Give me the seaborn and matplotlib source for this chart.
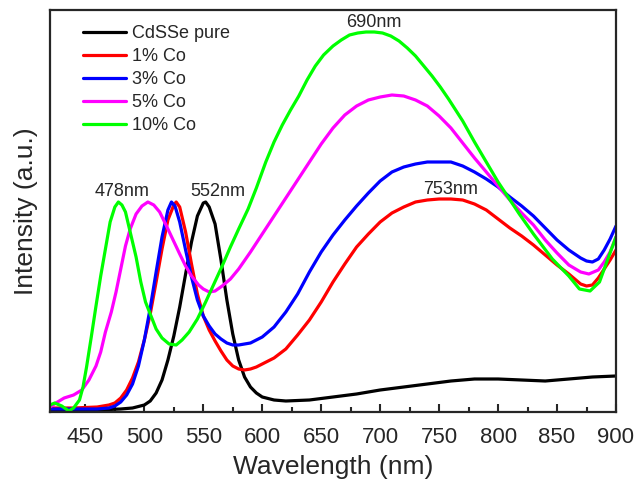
import numpy as np
import pandas as pd
import matplotlib
matplotlib.use("Agg")
import matplotlib.pyplot as plt
from matplotlib.ticker import MultipleLocator
import seaborn as sns

sns.set_style("ticks")
plt.rcParams['font.family'] = ['Liberation Sans', 'DejaVu Sans']

# PL spectra (intensity in arbitrary units)
pure_wl = [420, 440, 460, 480, 490, 500, 505, 510, 515, 520, 525, 530, 535, 540, 545, 550, 552,
           555, 560, 565, 570, 575, 580, 585, 590, 595, 600, 610, 620, 640, 660, 680, 700, 720,
           740, 760, 780, 800, 820, 840, 860, 880, 900]
pure_int = [2, 2, 2, 3, 4, 7, 11, 19, 32, 52, 76, 105, 138, 170, 196, 209, 210,
            205, 188, 152, 112, 78, 52, 35, 25, 19, 15, 12, 11, 12, 15, 18, 22, 25,
            28, 31, 33, 33, 32, 31, 33, 35, 36]

co1_wl = [420, 440, 460, 470, 475, 480, 485, 490, 495, 500, 505, 510, 515, 520, 525, 527, 530,
          535, 540, 545, 550, 555, 560, 565, 570, 575, 580, 585, 590, 595, 600, 610, 620, 630,
          640, 650, 660, 670, 680, 690, 700, 710, 720, 730, 740, 750, 760, 770, 780, 790, 800,
          810, 820, 830, 840, 850, 860, 865, 870, 875, 880, 885, 890, 895, 900]
co1_int = [4, 4, 5, 7, 9, 14, 22, 34, 50, 72, 98, 130, 163, 192, 207, 210, 205,
           180, 148, 118, 96, 82, 71, 61, 52, 46, 43, 42, 43, 45, 48, 54, 63, 77,
           92, 110, 130, 148, 165, 178, 190, 199, 205, 210, 212, 213, 213, 212, 208, 202, 193,
           184, 176, 167, 157, 147, 138, 133, 128, 126, 127, 134, 143, 152, 162]

co3_wl = [420, 440, 460, 470, 475, 480, 485, 490, 495, 500, 505, 510, 515, 520, 523, 526, 530,
          535, 540, 545, 550, 555, 560, 565, 570, 575, 580, 590, 600, 610, 620, 630, 640, 650,
          660, 670, 680, 690, 700, 710, 720, 730, 740, 750, 760, 770, 780, 790, 800, 810, 820,
          830, 840, 850, 860, 870, 875, 880, 885, 890, 895, 900]
co3_int = [3, 3, 3, 4, 6, 10, 17, 28, 46, 72, 104, 140, 175, 202, 210, 206, 190,
           162, 135, 112, 96, 86, 78, 73, 69, 67, 67, 69, 75, 85, 100, 118, 140, 160,
           177, 192, 206, 219, 231, 240, 245, 248, 250, 250, 250, 246, 240, 233, 225, 215, 206,
           196, 184, 172, 162, 154, 151, 150, 153, 162, 173, 186]

co5_wl = [420, 425, 432, 440, 447, 453, 459, 463, 467, 472, 476, 480, 484, 488, 493, 498, 503,
          508, 513, 518, 524, 530, 535, 540, 546, 550, 555, 560, 566, 573, 580, 590, 600, 610,
          620, 630, 640, 650, 660, 670, 680, 690, 700, 710, 720, 730, 740, 750, 760, 770, 780,
          790, 800, 810, 820, 830, 840, 850, 860, 870, 877, 885, 890, 895, 900]
co5_int = [5, 9, 14, 17, 22, 32, 46, 60, 80, 100, 120, 143, 166, 183, 198, 206, 210,
           207, 200, 188, 173, 158, 146, 136, 127, 123, 120, 121, 126, 133, 143, 160, 178, 196,
           214, 232, 250, 268, 284, 297, 306, 312, 315, 317, 316, 312, 306, 296, 284, 269, 254,
           240, 226, 212, 199, 187, 172, 159, 147, 140, 138, 142, 150, 160, 175]

co10_wl = [420, 424, 430, 436, 440, 445, 448, 451, 455, 459, 463, 467, 471, 475, 478, 481, 484,
           488, 493, 497, 501, 506, 510, 515, 521, 527, 532, 538, 545, 552, 559, 566, 573, 580,
           588, 595, 603, 610, 617, 624, 631, 638, 645, 652, 660, 667, 674, 681, 688, 695, 702,
           709, 716, 723, 730, 737, 744, 751, 758, 770, 780, 790, 800, 818, 830, 846, 860, 869,
           878, 886, 894, 900]
co10_int = [7, 9, 6, 1, 4, 12, 25, 45, 75, 106, 136, 163, 190, 205, 210, 207, 200,
            180, 155, 130, 110, 95, 83, 74, 68, 67, 72, 80, 93, 110, 128, 146, 165, 183,
            203, 224, 250, 270, 287, 302, 316, 332, 346, 357, 366, 372, 377, 379, 380, 380, 379,
            376, 371, 364, 356, 346, 336, 325, 313, 291, 270, 250, 230, 198, 178, 153, 136, 123,
            121, 130, 156, 175]

labels = ["CdSSe pure", "1% Co", "3% Co", "5% Co", "10% Co"]
colors = ["#000000", "#ff0000", "#0000ff", "#ff00ff", "#00ff00"]

frames = []
for lab, wl, it in zip(labels,
                       [pure_wl, co1_wl, co3_wl, co5_wl, co10_wl],
                       [pure_int, co1_int, co3_int, co5_int, co10_int]):
    frames.append(pd.DataFrame({"wl": wl, "I": it, "sample": lab}))
df = pd.concat(frames, ignore_index=True)

fig = plt.figure(figsize=(6.36, 4.86), dpi=100)
ax = fig.add_axes([50 / 636, 1 - 412 / 486, 566 / 636, 402 / 486])

sns.lineplot(data=df, x="wl", y="I", hue="sample", hue_order=labels,
             palette=dict(zip(labels, colors)), estimator=None, sort=False,
             linewidth=2.3, ax=ax)

# peak labels
ax.text(481, 220, "478nm", ha="center", va="center", fontsize=13)
ax.text(562, 220, "552nm", ha="center", va="center", fontsize=13)
ax.text(695, 389, "690nm", ha="center", va="center", fontsize=13)
ax.text(760, 222, "753nm", ha="center", va="center", fontsize=13)

ax.set_xlim(420, 900)
ax.set_ylim(0, 402)
ax.xaxis.set_major_locator(MultipleLocator(50))
ax.xaxis.set_minor_locator(MultipleLocator(25))
ax.set_yticks([])
ax.tick_params(axis="x", which="major", direction="in", length=6, width=1.5,
               labelsize=16, pad=11)
ax.tick_params(axis="x", which="minor", direction="in", length=3.5, width=1.5)
for sp in ax.spines.values():
    sp.set_linewidth(1.6)
    sp.set_visible(True)

ax.set_xlabel("Wavelength (nm)", fontsize=19, labelpad=5)
ax.set_ylabel("Intensity (a.u.)", fontsize=19, labelpad=9)

handles, labs = ax.get_legend_handles_labels()
ax.legend(handles, labs, loc="upper left", bbox_to_anchor=(0.058, 0.963),
          frameon=False, fontsize=13, handlelength=2.4, handletextpad=0.3,
          labelspacing=0.34, borderpad=0, borderaxespad=0)

fig.savefig("out.png", dpi=100)
